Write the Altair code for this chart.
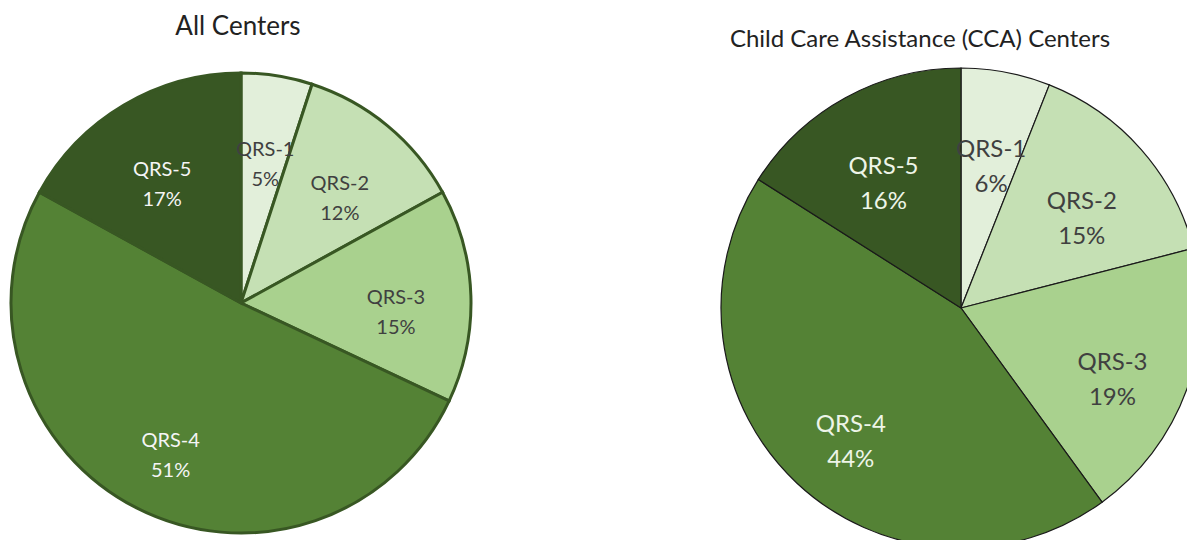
import altair as alt
import pandas as pd

# ---- data ----
categories = ["QRS-1", "QRS-2", "QRS-3", "QRS-4", "QRS-5"]
all_centers_pct = [5, 12, 15, 51, 17]
cca_centers_pct = [6, 15, 19, 44, 16]
slice_colors = ["#e2efda", "#c5e0b4", "#a9d18e", "#548235", "#385723"]
light_text_categories = ["QRS-4", "QRS-5"]
titles = ["All Centers", "Child Care Assistance (CCA) Centers"]


def frame(values):
    return pd.DataFrame({
        "cat": categories,
        "pct": values,
        "label": [f"{c}\n{v}%" for c, v in zip(categories, values)],
    })


df_all = frame(all_centers_pct)
df_cca = frame(cca_centers_pct)

W, H = 1179, 532
FONT = "Lato"

color_scale = alt.Scale(domain=categories, range=slice_colors)


def pie(df, cx, cy, r, stroke, stroke_w, label_r, fsize, lh, light):
    base = alt.Chart(df).encode(
        theta=alt.Theta("pct:Q", stack=True),
        order=alt.Order("cat:N", sort="ascending"),
        x=alt.value(cx),
        y=alt.value(cy),
    )
    arcs = base.mark_arc(radius=r, stroke=stroke, strokeWidth=stroke_w,
                         clip=True).encode(
        color=alt.Color("cat:N", scale=color_scale, legend=None)
    )
    labels = base.mark_text(radius=label_r, font=FONT, fontSize=fsize,
                            lineBreak="\n", lineHeight=lh, clip=True).encode(
        text="label:N",
        color=alt.condition(
            alt.FieldOneOfPredicate(field="cat", oneOf=light_text_categories),
            alt.value(light), alt.value("#404040")),
    )
    return arcs, labels


a1, t1 = pie(df_all, 233, 295, 230, "#385723", 3, 155, 20, 30, "#f5f5f5")
a2, t2 = pie(df_cca, 953, 300, 240, "#1a1a1a", 1.2, 161, 24, 35, "#eef5e8")

title_df = pd.DataFrame({"t": titles})
title1 = alt.Chart(title_df).transform_filter(
    alt.datum.t == titles[0]).mark_text(
    font=FONT, fontSize=26, color="#222222", align="center", baseline="middle"
).encode(text="t:N", x=alt.value(230), y=alt.value(19))
title2 = alt.Chart(title_df).transform_filter(
    alt.datum.t == titles[1]).mark_text(
    font=FONT, fontSize=24, color="#222222", align="center", baseline="middle"
).encode(text="t:N", x=alt.value(912), y=alt.value(32))

chart = alt.layer(a1, t1, a2, t2, title1, title2).resolve_scale(
    theta="independent"
).properties(
    width=W, height=H, padding=0,
    autosize=alt.AutoSizeParams(type="none"),
).configure_view(stroke=None)

chart.save("out.html", embed_options={"renderer": "svg", "actions": False})
